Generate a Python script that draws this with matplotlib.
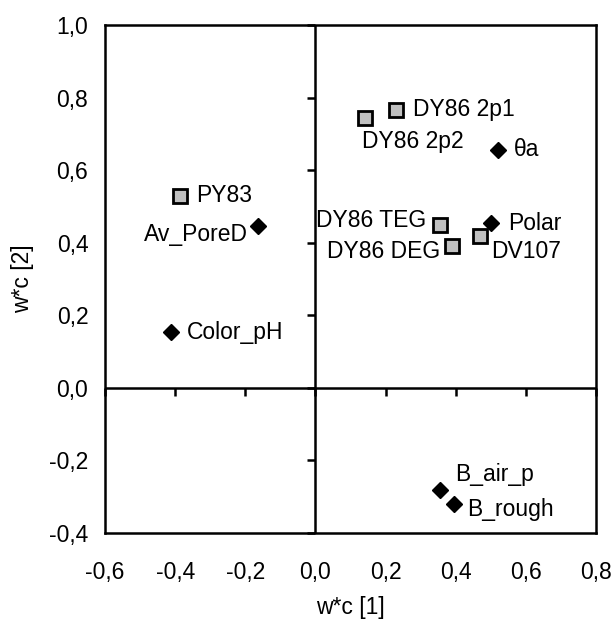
import numpy as np
import matplotlib
matplotlib.use("Agg")
import matplotlib.pyplot as plt

plt.rcParams['font.family'] = ['Liberation Sans', 'DejaVu Sans']

# squares (grey) - dyes / pigments
sq_names = ['DY86 2p1', 'DY86 2p2', 'PY83', 'DY86 TEG', 'DY86 DEG', 'DV107']
sq_x = [0.231, 0.140, -0.387, 0.355, 0.388, 0.468]
sq_y = [0.766, 0.743, 0.529, 0.449, 0.392, 0.419]

# diamonds (black) - variables
dm_names = ['θa', 'Polar', 'Av_PoreD', 'Color_pH', 'B_air_p', 'B_rough']
dm_x = [0.521, 0.502, -0.164, -0.413, 0.356, 0.396]
dm_y = [0.656, 0.454, 0.446, 0.153, -0.281, -0.320]

xticks = [-0.6, -0.4, -0.2, 0.0, 0.2, 0.4, 0.6, 0.8]
yticks = [-0.4, -0.2, 0.0, 0.2, 0.4, 0.6, 0.8, 1.0]

# label offsets in points (dx, dy, ha)
sq_off = [(12, 0, 'left'), (-2, -17, 'left'), (12, 0, 'left'),
          (-10, 3, 'right'), (-8, -4, 'right'), (8, -11, 'left')]
dm_off = [(11, 0, 'left'), (12, 0, 'left'), (-7, -6, 'right'),
          (12, 0, 'left'), (11, 11, 'left'), (9, -4, 'left')]

FS = 16.5

fig = plt.figure(figsize=(6.15, 6.23), dpi=100)
ax = fig.add_axes([105/615, 90/623, 491/615, 508/623])

ax.set_xlim(-0.6, 0.8)
ax.set_ylim(-0.4, 1.0)

for s in ax.spines.values():
    s.set_linewidth(1.8)
ax.axhline(0, color='black', lw=1.8, zorder=1)
ax.axvline(0, color='black', lw=1.8, zorder=1)

ax.set_xticks(xticks)
ax.set_yticks(yticks)
ax.set_xticklabels([f'{v:.1f}'.replace('.', ',') for v in xticks])
ax.set_yticklabels([f'{v:.1f}'.replace('.', ',') for v in yticks])
ax.tick_params(axis='x', length=0, labelsize=FS, pad=20)
ax.tick_params(axis='y', length=0, labelsize=FS, pad=12)

# tick marks drawn on the zero lines
ax.plot(np.zeros(len(yticks)), yticks, marker=0, ls='none', ms=6,
        mew=1.8, color='black', clip_on=False)
ax.plot(xticks, np.zeros(len(xticks)), marker=3, ls='none', ms=6,
        mew=1.8, color='black', clip_on=False)

ax.plot(sq_x, sq_y, ls='none', marker='s', ms=9.5, mfc='#c0c0c0',
        mec='black', mew=2, zorder=3)
ax.plot(dm_x, dm_y, ls='none', marker='D', ms=8.5, mfc='black',
        mec='black', zorder=3)

for name, x, y, (dx, dy, ha) in zip(sq_names, sq_x, sq_y, sq_off):
    ax.annotate(name, (x, y), xytext=(dx, dy), textcoords='offset points',
                ha=ha, va='center', fontsize=FS)
for name, x, y, (dx, dy, ha) in zip(dm_names, dm_x, dm_y, dm_off):
    ax.annotate(name, (x, y), xytext=(dx, dy), textcoords='offset points',
                ha=ha, va='center', fontsize=FS)

ax.set_xlabel('w*c [1]', fontsize=FS, labelpad=9)
ax.set_ylabel('w*c [2]', fontsize=FS, labelpad=11)

fig.savefig('out.png', dpi=100)
